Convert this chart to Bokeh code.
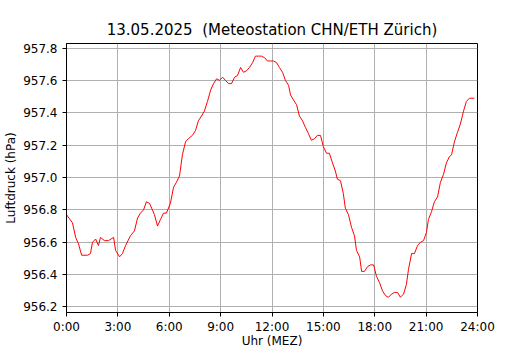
from bokeh.plotting import figure
from bokeh.models import FixedTicker, PrintfTickFormatter, Range1d
from bokeh.embed import file_html
from bokeh.resources import INLINE

title_text = "13.05.2025\u00a0\u00a0(Meteostation CHN/ETH Zürich)"
x_label = "Uhr (MEZ)"
y_label = "Luftdruck (hPa)"

# time of day in minutes after midnight
minutes = [0, 21, 32, 42, 53, 74, 84, 91, 102, 112, 119, 133, 147, 165, 172, 186, 196,
           207, 224, 238, 249, 259, 270, 280, 291, 301, 308, 319, 329, 340, 350, 364,
           375, 385, 396, 406, 417, 427, 441, 452, 462, 473, 483, 494, 505, 515, 526,
           536, 547, 557, 568, 578, 589, 599, 610, 620, 631, 641, 652, 662, 673, 683,
           694, 704, 715, 725, 736, 746, 757, 767, 778, 785, 795, 806, 816, 827, 837,
           848, 858, 869, 879, 890, 900, 911, 921, 932, 942, 949, 960, 970, 977, 988,
           999, 1009, 1016, 1027, 1034, 1044, 1055, 1065, 1076, 1086, 1097, 1107, 1118,
           1128, 1139, 1149, 1160, 1170, 1181, 1191, 1198, 1209, 1219, 1230, 1240, 1251,
           1261, 1268, 1279, 1289, 1300, 1310, 1321, 1331, 1342, 1349, 1359, 1370, 1380,
           1391, 1401, 1412, 1429]

pressure = [956.77, 956.72, 956.63, 956.59, 956.52, 956.52, 956.53, 956.60, 956.62, 956.58,
            956.63, 956.61, 956.61, 956.63, 956.55, 956.51, 956.53, 956.58, 956.64, 956.67,
            956.75, 956.78, 956.80, 956.85, 956.84, 956.80, 956.77, 956.70, 956.74, 956.78,
            956.78, 956.84, 956.94, 956.97, 957.01, 957.14, 957.22, 957.24, 957.26, 957.29,
            957.35, 957.38, 957.41, 957.47, 957.54, 957.58, 957.61, 957.60, 957.62, 957.60,
            957.58, 957.58, 957.62, 957.63, 957.68, 957.65, 957.66, 957.68, 957.71, 957.75,
            957.75, 957.75, 957.74, 957.72, 957.72, 957.72, 957.71, 957.68, 957.65, 957.60,
            957.57, 957.51, 957.48, 957.45, 957.38, 957.35, 957.31, 957.27, 957.23, 957.24,
            957.26, 957.26, 957.19, 957.15, 957.15, 957.09, 957.04, 956.99, 956.98, 956.90,
            956.81, 956.77, 956.69, 956.64, 956.55, 956.51, 956.42, 956.42, 956.45, 956.46,
            956.46, 956.39, 956.35, 956.30, 956.27, 956.26, 956.28, 956.29, 956.29, 956.26,
            956.28, 956.34, 956.43, 956.53, 956.53, 956.58, 956.60, 956.61, 956.66, 956.74,
            956.79, 956.85, 956.88, 956.97, 957.02, 957.09, 957.13, 957.14, 957.22, 957.28,
            957.33, 957.41, 957.47, 957.49, 957.49]

x_ticks = [0, 3, 6, 9, 12, 15, 18, 21, 24]
x_tick_labels = ["0:00", "3:00", "6:00", "9:00", "12:00", "15:00", "18:00", "21:00", "24:00"]
y_ticks = [956.2, 956.4, 956.6, 956.8, 957.0, 957.2, 957.4, 957.6, 957.8]

hours = [m / 60.0 for m in minutes]

FONT = "DejaVu Sans"

p = figure(width=530, height=350, output_backend="svg", toolbar_location=None,
           x_range=Range1d(0, 24), y_range=Range1d(956.166, 957.828),
           min_border_left=66, min_border_right=53, min_border_top=43, min_border_bottom=37,
           title=title_text)

p.title.align = "center"
p.title.text_font = FONT
p.title.text_font_size = "15px"
p.title.text_font_style = "normal"
p.title.text_color = "black"
p.title.standoff = 10

p.line(hours, pressure, line_color="red", line_width=1)

p.outline_line_color = "black"
p.outline_line_width = 1
p.outline_line_alpha = 1

for ax in (p.xaxis[0], p.yaxis[0]):
    ax.axis_line_color = "black"
    ax.major_tick_line_color = "black"
    ax.major_tick_out = 4
    ax.major_tick_in = 0
    ax.minor_tick_line_color = None
    ax.major_label_text_font = FONT
    ax.major_label_text_font_size = "12px"
    ax.major_label_text_color = "black"
    ax.axis_label_text_font = FONT
    ax.axis_label_text_font_size = "12px"
    ax.axis_label_text_font_style = "normal"
    ax.axis_label_text_color = "black"

p.xaxis[0].ticker = FixedTicker(ticks=x_ticks)
p.xaxis[0].major_label_overrides = {t: l for t, l in zip(x_ticks, x_tick_labels)}
p.xaxis[0].major_label_standoff = 3
p.xaxis[0].axis_label = x_label
p.xaxis[0].axis_label_standoff = -3

p.yaxis[0].ticker = FixedTicker(ticks=y_ticks)
p.yaxis[0].formatter = PrintfTickFormatter(format="%.1f")
p.yaxis[0].major_label_standoff = 5
p.yaxis[0].axis_label = y_label
p.yaxis[0].axis_label_standoff = 2

p.grid.grid_line_color = "#b0b0b0"
p.grid.grid_line_width = 1

p.background_fill_color = "white"
p.border_fill_color = "white"

open("out.html", "w").write(file_html(p, INLINE))
